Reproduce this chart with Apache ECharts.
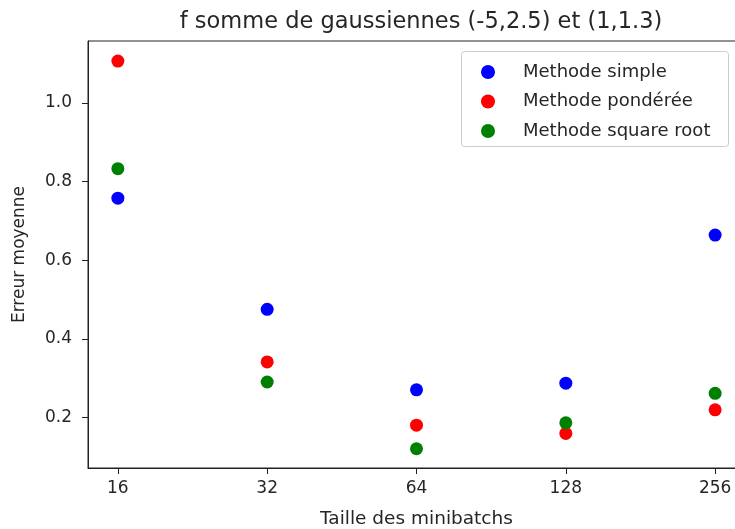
<!DOCTYPE html>
<html>
<head>
<meta charset="utf-8">
<script src="https://cdn.jsdelivr.net/npm/echarts@6/dist/echarts.min.js"></script>
<style>
  html, body { margin: 0; padding: 0; background: #fff; }
  #chart { width: 735px; height: 529px; }
</style>
</head>
<body>
<div id="chart"></div>
<script>
// tailles des minibatchs (axe log2)
const batchSizes = [16, 32, 64, 128, 256];
// erreur moyenne par méthode
const simpleErr = [0.758, 0.475, 0.270, 0.287, 0.664];
const pondereeErr = [1.107, 0.341, 0.180, 0.159, 0.219];
const sqrtErr = [0.833, 0.290, 0.120, 0.186, 0.261];
const yTicks = [0.2, 0.4, 0.6, 0.8, 1.0];

const seriesNames = ["Methode simple", "Methode pondérée", "Methode square root"];
const seriesColors = ["#0000ff", "#ff0000", "#008000"];
const seriesValues = [simpleErr, pondereeErr, sqrtErr];

const font = "DejaVu Sans";
const textColor = "#262626";

const chart = echarts.init(document.getElementById("chart"));

const option = {
  animation: false,
  backgroundColor: "#fff",
  textStyle: { fontFamily: font, color: textColor },
  title: {
    text: "f somme de gaussiennes (-5,2.5) et (1,1.3)",
    left: 416,
    textAlign: "center",
    top: 6,
    textStyle: { fontFamily: font, fontSize: 22.5, fontWeight: "normal", color: textColor },
  },
  grid: {
    left: 88,
    top: 41,
    right: -10,
    bottom: 61,
    containLabel: false,
    outerBoundsMode: "none",
    show: true,
    borderColor: "#222",
    borderWidth: 1,
    backgroundColor: "#fff",
  },
  legend: {
    orient: "vertical",
    left: 481,
    top: 63,
    itemWidth: 60,
    itemHeight: 14,
    itemGap: 11.5,
    padding: 0,
    selectedMode: false,
    icon: "circle",
    data: seriesNames,
    textStyle: { fontFamily: font, fontSize: 18, color: textColor, lineHeight: 14 },
    z: 10,
  },
  graphic: [
    {
      type: "rect",
      left: 461,
      top: 51,
      z: 5,
      shape: { width: 267, height: 95, r: 3 },
      style: { fill: "rgba(255,255,255,0.8)", stroke: "#cccccc", lineWidth: 1 },
    },
  ],
  xAxis: {
    type: "log",
    logBase: 2,
    min: 16 / Math.pow(2, 0.2),
    max: 256 * Math.pow(2, 0.2),
    name: "Taille des minibatchs",
    nameLocation: "middle",
    nameGap: 42,
    nameTextStyle: { fontFamily: font, fontSize: 18.5, color: textColor },
    axisLine: { show: true, lineStyle: { color: "#222", width: 1 } },
    axisTick: { show: true, inside: false, length: 6, customValues: batchSizes, lineStyle: { color: "#222" } },
    axisLabel: {
      customValues: batchSizes,
      margin: 12,
      fontFamily: font,
      fontSize: 17,
      color: textColor,
      formatter: (v) => String(Math.round(v)),
    },
    splitLine: { show: false },
    minorTick: { show: false },
  },
  yAxis: {
    type: "value",
    min: 0.071,
    max: 1.158,
    name: "Erreur moyenne",
    nameLocation: "middle",
    nameGap: 60,
    nameTextStyle: { fontFamily: font, fontSize: 17, color: textColor },
    axisLine: { show: true, lineStyle: { color: "#222", width: 1 } },
    axisTick: { show: true, inside: false, length: 6, customValues: yTicks, lineStyle: { color: "#222" } },
    axisLabel: {
      customValues: yTicks,
      margin: 16,
      fontFamily: font,
      fontSize: 17,
      color: textColor,
      formatter: (v) => v.toFixed(1),
    },
    splitLine: { show: false },
  },
  series: seriesNames.map((name, i) => ({
    name: name,
    type: "scatter",
    symbol: "circle",
    symbolSize: 13,
    itemStyle: { color: seriesColors[i], opacity: 1 },
    data: batchSizes.map((b, j) => [b, seriesValues[i][j]]),
    z: 2 + i,
  })),
};

chart.setOption(option);
</script>
</body>
</html>
